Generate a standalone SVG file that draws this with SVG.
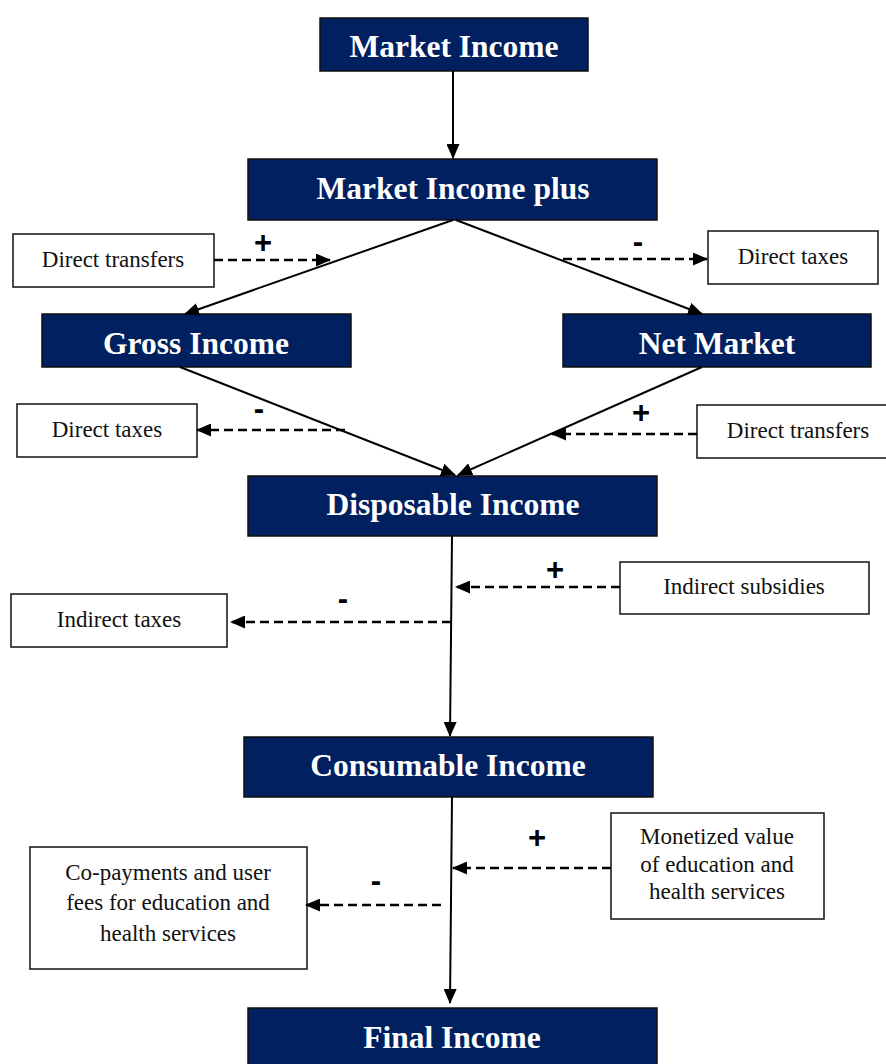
<svg xmlns="http://www.w3.org/2000/svg" width="886" height="1064" viewBox="0 0 886 1064">
  <defs>
    <marker id="arrow" markerUnits="userSpaceOnUse" markerWidth="15" markerHeight="13" viewBox="0 0 15 13" refX="14" refY="6.5" orient="auto">
      <path d="M0,0 L15,6.5 L0,13 Z" fill="#000"/>
    </marker>
    <style>
      .stage rect { fill: #002060; stroke: #111; stroke-width: 1.5; }
      .stage text { fill: #fff; font-family: "Liberation Serif", "Times New Roman", serif; font-weight: bold; font-size: 31.5px; text-anchor: middle; }
      .item rect { fill: #fff; stroke: #111; stroke-width: 1.5; }
      .item text { fill: #111; font-family: "Liberation Serif", "Times New Roman", serif; font-size: 23px; text-anchor: middle; }
      .flow { stroke: #000; stroke-width: 2; fill: none; marker-end: url(#arrow); }
      .adj { stroke: #000; stroke-width: 2.5; stroke-dasharray: 9 5; fill: none; marker-end: url(#arrow); }
      .sign { fill: #000; font-family: "Liberation Sans", Arial, sans-serif; font-weight: bold; font-size: 31px; text-anchor: middle; }
    </style>
  </defs>

  <!-- income stages -->
  <g id="market-income" class="stage">
    <rect x="320" y="18" width="268" height="53"/>
    <text x="454" y="57">Market Income</text>
  </g>
  <g id="market-income-plus" class="stage">
    <rect x="248" y="159" width="409" height="61"/>
    <text x="453" y="199">Market Income plus</text>
  </g>
  <g id="gross-income" class="stage">
    <rect x="42" y="314" width="309" height="53"/>
    <text x="196" y="354">Gross Income</text>
  </g>
  <g id="net-market" class="stage">
    <rect x="563" y="314" width="308" height="53"/>
    <text x="717" y="354">Net Market</text>
  </g>
  <g id="disposable-income" class="stage">
    <rect x="248" y="476" width="409" height="60"/>
    <text x="453" y="515">Disposable Income</text>
  </g>
  <g id="consumable-income" class="stage">
    <rect x="244" y="737" width="409" height="60"/>
    <text x="448" y="776">Consumable Income</text>
  </g>
  <g id="final-income" class="stage">
    <rect x="248" y="1008" width="409" height="62"/>
    <text x="452" y="1048">Final Income</text>
  </g>

  <!-- adjustments -->
  <g id="direct-transfers-top" class="item">
    <rect x="13" y="234" width="201" height="53"/>
    <text x="113" y="267">Direct transfers</text>
  </g>
  <g id="direct-taxes-top" class="item">
    <rect x="708" y="231" width="170" height="53"/>
    <text x="793" y="264">Direct taxes</text>
  </g>
  <g id="direct-taxes-mid" class="item">
    <rect x="17" y="404" width="180" height="53"/>
    <text x="107" y="437">Direct taxes</text>
  </g>
  <g id="direct-transfers-mid" class="item">
    <rect x="697" y="405" width="192" height="53"/>
    <text x="798" y="438">Direct transfers</text>
  </g>
  <g id="indirect-subsidies" class="item">
    <rect x="620" y="562" width="249" height="52"/>
    <text x="744" y="594">Indirect subsidies</text>
  </g>
  <g id="indirect-taxes" class="item">
    <rect x="11" y="594" width="216" height="53"/>
    <text x="119" y="627">Indirect taxes</text>
  </g>
  <g id="in-kind-benefits" class="item">
    <rect x="611" y="813" width="213" height="106"/>
    <text x="717" y="844">Monetized value</text>
    <text x="717" y="872">of education and</text>
    <text x="717" y="899">health services</text>
  </g>
  <g id="user-fees" class="item">
    <rect x="30" y="847" width="277" height="122"/>
    <text x="168" y="880">Co-payments and user</text>
    <text x="168" y="910">fees for education and</text>
    <text x="168" y="941">health services</text>
  </g>

  <!-- connectors -->
  <g id="connectors">
    <line class="flow" x1="453" y1="71" x2="453" y2="158"/>
    <line class="flow" x1="453" y1="220" x2="185" y2="314"/>
    <line class="flow" x1="456" y1="220" x2="702" y2="314"/>
    <line class="flow" x1="180" y1="367" x2="455" y2="475"/>
    <line class="flow" x1="702" y1="367" x2="458" y2="475"/>
    <line class="flow" x1="452" y1="536" x2="450" y2="736"/>
    <line class="flow" x1="452" y1="797" x2="450" y2="1003"/>

    <line class="adj" x1="214" y1="260" x2="330" y2="260"/>
    <line class="adj" x1="563" y1="259" x2="707" y2="259"/>
    <line class="adj" x1="345" y1="430" x2="197" y2="430"/>
    <line class="adj" x1="697" y1="434" x2="552" y2="434"/>
    <line class="adj" x1="620" y1="587" x2="456" y2="587"/>
    <line class="adj" x1="451" y1="622" x2="231" y2="622"/>
    <line class="adj" x1="611" y1="868" x2="453" y2="868"/>
    <line class="adj" x1="441" y1="905" x2="306" y2="905"/>

    <text class="sign" x="263" y="253">+</text>
    <text class="sign" x="638" y="252">-</text>
    <text class="sign" x="259" y="419">-</text>
    <text class="sign" x="641" y="423">+</text>
    <text class="sign" x="555" y="580">+</text>
    <text class="sign" x="343" y="609">-</text>
    <text class="sign" x="537" y="848">+</text>
    <text class="sign" x="376" y="891">-</text>
  </g>
</svg>
